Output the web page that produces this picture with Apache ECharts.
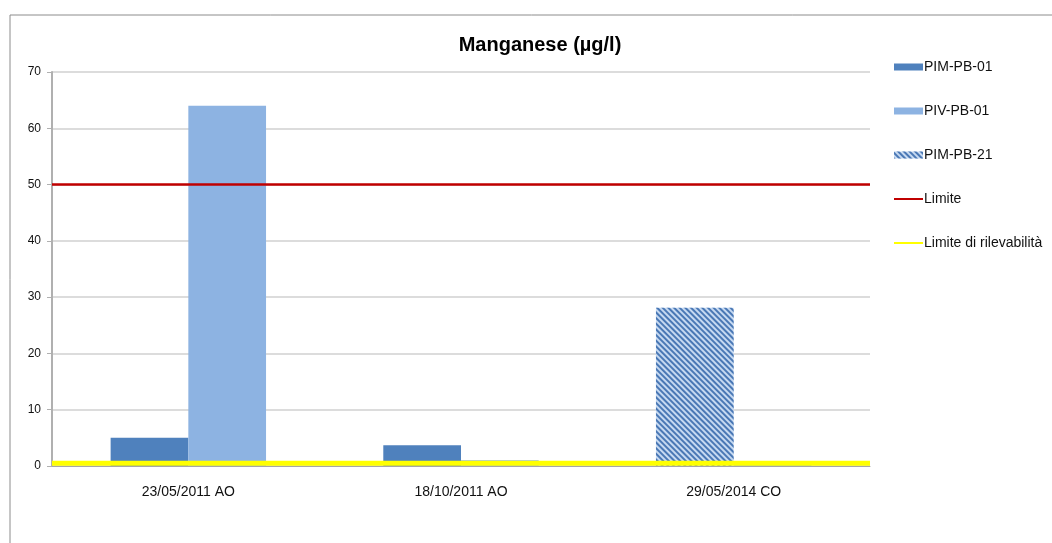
<!DOCTYPE html>
<html>
<head>
<meta charset="utf-8">
<script src="https://cdn.jsdelivr.net/npm/echarts@6/dist/echarts.min.js"></script>
<style>
  html, body { margin: 0; padding: 0; background: #fff; }
  #chart { width: 1052px; height: 543px; }
</style>
</head>
<body>
<div id="chart"></div>
<script>
// dati
var categories = ['23/05/2011 AO', '18/10/2011 AO', '29/05/2014 CO']
var pimPb01 = [5, 3.7, null]
var pivPb01 = [64, 1.0, 0.3]
var pimPb21 = [null, null, 28.1]
var limite = [50, 50]
var limiteRilev = [0.5, 0.5]
var yTicks = [0, 10, 20, 30, 40, 50, 60, 70]

var chartDom = echarts.init(document.getElementById('chart'))

chartDom.setOption({
  animation: false,
  textStyle: { fontFamily: 'Liberation Sans, Arial, sans-serif' },
  title: {
    text: 'Manganese (µg/l)',
    left: 535,
    textAlign: 'center',
    top: 30,
    textStyle: { fontSize: 20, fontWeight: 'bold', color: '#000' }
  },
  graphic: [{
    type: 'rect',
    shape: { x: 10, y: 15, width: 1060, height: 560 },
    style: { fill: 'none', stroke: '#8c8c8c', lineWidth: 1 },
    silent: true
  }],
  legend: {
    orient: 'vertical',
    left: 888,
    top: 55,
    itemGap: 30,
    itemWidth: 29,
    itemHeight: 7,
    textStyle: { fontSize: 14, color: '#111', padding: [0, 0, 0, -4] },
    data: [
      { name: 'PIM-PB-01', icon: 'rect' },
      { name: 'PIV-PB-01', icon: 'rect' },
      { name: 'PIM-PB-21', icon: 'rect' },
      { name: 'Limite', itemStyle: { opacity: 0 } },
      { name: 'Limite di rilevabilità', itemStyle: { opacity: 0 } }
    ]
  },
  grid: { left: 52, right: 182, top: 72, bottom: 77 },
  xAxis: [
    {
      type: 'category',
      data: categories,
      axisLine: { lineStyle: { color: '#a6a6a6' } },
      axisTick: { length: 10, lineStyle: { color: '#a6a6a6' } },
      axisLabel: { color: '#111', fontSize: 14, margin: 19 }
    },
    {
      type: 'category',
      data: ['', ''],
      boundaryGap: false,
      show: false
    }
  ],
  yAxis: {
    type: 'value',
    min: yTicks[0],
    max: yTicks[yTicks.length - 1],
    interval: 10,
    axisLine: { show: true, lineStyle: { color: '#b0b0b0', width: 2 } },
    axisTick: { show: true, length: 5, lineStyle: { color: '#b0b0b0' } },
    axisLabel: { color: '#111', fontSize: 12, margin: 11 },
    splitLine: { lineStyle: { color: '#d0d0d0', width: 1.5 } }
  },
  series: [
    {
      name: 'PIM-PB-01',
      type: 'bar',
      stack: 'pim',
      barCategoryGap: '43%',
      barGap: '0%',
      itemStyle: { color: '#4F81BD' },
      data: pimPb01
    },
    {
      name: 'PIV-PB-01',
      type: 'bar',
      barGap: '0%',
      itemStyle: { color: '#8DB3E2' },
      data: pivPb01
    },
    {
      name: 'PIM-PB-21',
      type: 'bar',
      stack: 'pim',
      itemStyle: {
        color: '#C6D9F1',
        decal: {
          symbol: 'rect',
          symbolSize: 1,
          dashArrayX: [[1, 0]],
          dashArrayY: [1.8, 1.8],
          rotation: Math.PI / 4,
          color: '#4A78B5'
        }
      },
      data: pimPb21
    },
    {
      name: 'Limite',
      type: 'line',
      xAxisIndex: 1,
      symbol: 'none',
      z: 5,
      lineStyle: { color: '#C00000', width: 2.5 },
      itemStyle: { color: '#C00000' },
      data: limite
    },
    {
      name: 'Limite di rilevabilità',
      type: 'line',
      xAxisIndex: 1,
      symbol: 'none',
      z: 5,
      lineStyle: { color: '#FFFF00', width: 5 },
      itemStyle: { color: '#FFFF00' },
      data: limiteRilev
    }
  ]
})
</script>
</body>
</html>
